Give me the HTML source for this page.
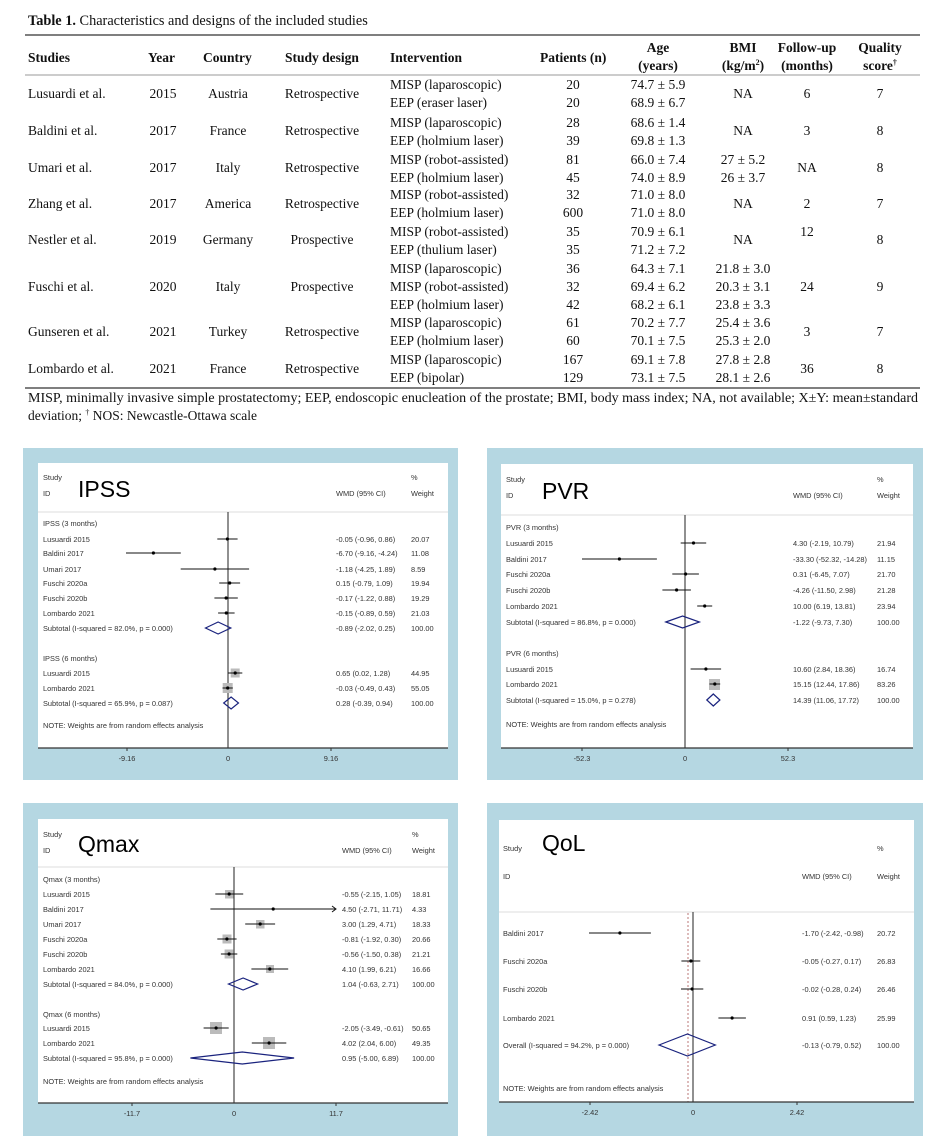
<!DOCTYPE html>
<html><head><meta charset="utf-8"><style>
html,body{margin:0;padding:0;background:#fff}
svg{display:block}
.t{font-family:"Liberation Serif",serif;font-size:13.5px;fill:#111}
.b{font-weight:bold}
.f{font-family:"Liberation Sans",sans-serif;font-size:7.4px;fill:#333}
.big{font-family:"Liberation Sans",sans-serif;font-size:23px;fill:#000}
.m{text-anchor:middle}
</style></head><body>
<svg width="945" height="1146" viewBox="0 0 945 1146" xmlns="http://www.w3.org/2000/svg">
<!-- TABLE -->
<g class="t">
<text x="28" y="25" font-size="14.3"><tspan class="b">Table 1.</tspan> Characteristics and designs of the included studies</text>
<line x1="25" y1="35" x2="920" y2="35" stroke="#555" stroke-width="1.5"/>
<g class="b">
<text x="28" y="62">Studies</text><text x="148" y="62">Year</text><text x="203" y="62">Country</text>
<text x="285" y="62">Study design</text><text x="390" y="62">Intervention</text><text x="540" y="62">Patients (n)</text>
<text x="658" y="52" class="m">Age</text><text x="658" y="70" class="m">(years)</text>
<text x="743" y="52" class="m">BMI</text><text x="743" y="70" class="m">(kg/m<tspan font-size="8" dy="-5">2</tspan><tspan dy="5">)</tspan></text>
<text x="807" y="52" class="m">Follow-up</text><text x="807" y="70" class="m">(months)</text>
<text x="880" y="52" class="m">Quality</text><text x="880" y="70" class="m">score<tspan font-size="8" dy="-5">†</tspan></text>
</g>
<line x1="25" y1="75" x2="920" y2="75" stroke="#999" stroke-width="1"/>

<text x="28" y="98">Lusuardi et al.</text><text x="163" y="98" class="m">2015</text><text x="228" y="98" class="m">Austria</text><text x="322" y="98" class="m">Retrospective</text>
<text x="390" y="89">MISP (laparoscopic)</text><text x="573" y="89" class="m">20</text><text x="658" y="89" class="m">74.7 ± 5.9</text>
<text x="390" y="107">EEP (eraser laser)</text><text x="573" y="107" class="m">20</text><text x="658" y="107" class="m">68.9 ± 6.7</text>
<text x="743" y="98" class="m">NA</text><text x="807" y="98" class="m">6</text><text x="880" y="98" class="m">7</text>

<text x="28" y="135">Baldini et al.</text><text x="163" y="135" class="m">2017</text><text x="228" y="135" class="m">France</text><text x="322" y="135" class="m">Retrospective</text>
<text x="390" y="127">MISP (laparoscopic)</text><text x="573" y="127" class="m">28</text><text x="658" y="127" class="m">68.6 ± 1.4</text>
<text x="390" y="145">EEP (holmium laser)</text><text x="573" y="145" class="m">39</text><text x="658" y="145" class="m">69.8 ± 1.3</text>
<text x="743" y="135" class="m">NA</text><text x="807" y="135" class="m">3</text><text x="880" y="135" class="m">8</text>

<text x="28" y="172">Umari et al.</text><text x="163" y="172" class="m">2017</text><text x="228" y="172" class="m">Italy</text><text x="322" y="172" class="m">Retrospective</text>
<text x="390" y="164">MISP (robot-assisted)</text><text x="573" y="164" class="m">81</text><text x="658" y="164" class="m">66.0 ± 7.4</text><text x="743" y="164" class="m">27 ± 5.2</text>
<text x="390" y="182">EEP (holmium laser)</text><text x="573" y="182" class="m">45</text><text x="658" y="182" class="m">74.0 ± 8.9</text><text x="743" y="182" class="m">26 ± 3.7</text>
<text x="807" y="172" class="m">NA</text><text x="880" y="172" class="m">8</text>

<text x="28" y="208">Zhang et al.</text><text x="163" y="208" class="m">2017</text><text x="228" y="208" class="m">America</text><text x="322" y="208" class="m">Retrospective</text>
<text x="390" y="199">MISP (robot-assisted)</text><text x="573" y="199" class="m">32</text><text x="658" y="199" class="m">71.0 ± 8.0</text>
<text x="390" y="217">EEP (holmium laser)</text><text x="573" y="217" class="m">600</text><text x="658" y="217" class="m">71.0 ± 8.0</text>
<text x="743" y="208" class="m">NA</text><text x="807" y="208" class="m">2</text><text x="880" y="208" class="m">7</text>

<text x="28" y="244">Nestler et al.</text><text x="163" y="244" class="m">2019</text><text x="228" y="244" class="m">Germany</text><text x="322" y="244" class="m">Prospective</text>
<text x="390" y="236">MISP (robot-assisted)</text><text x="573" y="236" class="m">35</text><text x="658" y="236" class="m">70.9 ± 6.1</text>
<text x="390" y="254">EEP (thulium laser)</text><text x="573" y="254" class="m">35</text><text x="658" y="254" class="m">71.2 ± 7.2</text>
<text x="743" y="244" class="m">NA</text><text x="807" y="236" class="m">12</text><text x="880" y="244" class="m">8</text>

<text x="28" y="291">Fuschi et al.</text><text x="163" y="291" class="m">2020</text><text x="228" y="291" class="m">Italy</text><text x="322" y="291" class="m">Prospective</text>
<text x="390" y="273">MISP (laparoscopic)</text><text x="573" y="273" class="m">36</text><text x="658" y="273" class="m">64.3 ± 7.1</text><text x="743" y="273" class="m">21.8 ± 3.0</text>
<text x="390" y="291">MISP (robot-assisted)</text><text x="573" y="291" class="m">32</text><text x="658" y="291" class="m">69.4 ± 6.2</text><text x="743" y="291" class="m">20.3 ± 3.1</text>
<text x="390" y="309">EEP (holmium laser)</text><text x="573" y="309" class="m">42</text><text x="658" y="309" class="m">68.2 ± 6.1</text><text x="743" y="309" class="m">23.8 ± 3.3</text>
<text x="807" y="291" class="m">24</text><text x="880" y="291" class="m">9</text>

<text x="28" y="336">Gunseren et al.</text><text x="163" y="336" class="m">2021</text><text x="228" y="336" class="m">Turkey</text><text x="322" y="336" class="m">Retrospective</text>
<text x="390" y="327">MISP (laparoscopic)</text><text x="573" y="327" class="m">61</text><text x="658" y="327" class="m">70.2 ± 7.7</text><text x="743" y="327" class="m">25.4 ± 3.6</text>
<text x="390" y="345">EEP (holmium laser)</text><text x="573" y="345" class="m">60</text><text x="658" y="345" class="m">70.1 ± 7.5</text><text x="743" y="345" class="m">25.3 ± 2.0</text>
<text x="807" y="336" class="m">3</text><text x="880" y="336" class="m">7</text>

<text x="28" y="373">Lombardo et al.</text><text x="163" y="373" class="m">2021</text><text x="228" y="373" class="m">France</text><text x="322" y="373" class="m">Retrospective</text>
<text x="390" y="364">MISP (laparoscopic)</text><text x="573" y="364" class="m">167</text><text x="658" y="364" class="m">69.1 ± 7.8</text><text x="743" y="364" class="m">27.8 ± 2.8</text>
<text x="390" y="382">EEP (bipolar)</text><text x="573" y="382" class="m">129</text><text x="658" y="382" class="m">73.1 ± 7.5</text><text x="743" y="382" class="m">28.1 ± 2.6</text>
<text x="807" y="373" class="m">36</text><text x="880" y="373" class="m">8</text>

<line x1="25" y1="388" x2="920" y2="388" stroke="#555" stroke-width="1.5"/>
<text x="28" y="402" textLength="890" lengthAdjust="spacingAndGlyphs">MISP,  minimally invasive simple prostatectomy; EEP, endoscopic enucleation of the prostate; BMI, body mass index; NA, not available; X±Y: mean±standard</text>
<text x="28" y="420">deviation; <tspan font-size="8" dy="-5">†</tspan><tspan dy="5"> NOS: Newcastle-Ottawa scale</tspan></text>
</g>

<!-- PANELS backgrounds -->
<rect x="23" y="448" width="435" height="332" fill="#b5d7e2"/>
<rect x="38" y="463" width="410" height="285" fill="#fff"/>
<rect x="487" y="448" width="436" height="332" fill="#b5d7e2"/>
<rect x="501" y="464" width="412" height="284" fill="#fff"/>
<rect x="23" y="803" width="435" height="333" fill="#b5d7e2"/>
<rect x="38" y="819" width="410" height="284" fill="#fff"/>
<rect x="487" y="803" width="436" height="333" fill="#b5d7e2"/>
<rect x="499" y="820" width="415" height="282" fill="#fff"/>

<!-- IPSS -->
<g class="f">
<text x="43" y="480">Study</text><text x="43" y="496">ID</text>
<text x="336" y="496">WMD (95% CI)</text><text x="411" y="480">%</text><text x="411" y="496">Weight</text>
<text x="43" y="526">IPSS (3 months)</text>
<text x="43" y="542">Lusuardi 2015</text><text x="336" y="542">-0.05 (-0.96, 0.86)</text><text x="411" y="542">20.07</text>
<text x="43" y="556">Baldini 2017</text><text x="336" y="556">-6.70 (-9.16, -4.24)</text><text x="411" y="556">11.08</text>
<text x="43" y="572">Umari 2017</text><text x="336" y="572">-1.18 (-4.25, 1.89)</text><text x="411" y="572">8.59</text>
<text x="43" y="586">Fuschi 2020a</text><text x="336" y="586">0.15 (-0.79, 1.09)</text><text x="411" y="586">19.94</text>
<text x="43" y="601">Fuschi 2020b</text><text x="336" y="601">-0.17 (-1.22, 0.88)</text><text x="411" y="601">19.29</text>
<text x="43" y="616">Lombardo 2021</text><text x="336" y="616">-0.15 (-0.89, 0.59)</text><text x="411" y="616">21.03</text>
<text x="43" y="631">Subtotal  (I-squared = 82.0%, p = 0.000)</text><text x="336" y="631">-0.89 (-2.02, 0.25)</text><text x="411" y="631">100.00</text>
<text x="43" y="661">IPSS (6 months)</text>
<text x="43" y="676">Lusuardi 2015</text><text x="336" y="676">0.65 (0.02, 1.28)</text><text x="411" y="676">44.95</text>
<text x="43" y="691">Lombardo 2021</text><text x="336" y="691">-0.03 (-0.49, 0.43)</text><text x="411" y="691">55.05</text>
<text x="43" y="706">Subtotal  (I-squared = 65.9%, p = 0.087)</text><text x="336" y="706">0.28 (-0.39, 0.94)</text><text x="411" y="706">100.00</text>
<text x="43" y="728">NOTE: Weights are from random effects analysis</text>
<text x="127" y="761" class="m">-9.16</text><text x="228" y="761" class="m">0</text><text x="331" y="761" class="m">9.16</text>
</g>
<text x="78" y="497" class="big">IPSS</text>
<line x1="38" y1="512" x2="448" y2="512" stroke="#ddd"/>
<line x1="228" y1="512" x2="228" y2="748" stroke="#222"/>
<line x1="38" y1="748" x2="448" y2="748" stroke="#333" stroke-width="1.2"/>
<path d="M127 748v3M331 748v3" stroke="#333"/>
<g stroke="#111" stroke-width="1">
<line x1="217.3" y1="539" x2="237.6" y2="539"/><line x1="126" y1="553" x2="180.8" y2="553"/>
<line x1="180.7" y1="569" x2="249.1" y2="569"/><line x1="219.2" y1="583" x2="240.1" y2="583"/>
<line x1="214.4" y1="598" x2="237.8" y2="598"/><line x1="218.1" y1="613" x2="234.6" y2="613"/>
</g>
<rect x="230.7" y="668.5" width="9" height="9" fill="#bbb"/><rect x="222.7" y="683" width="10" height="10" fill="#bbb"/>
<g stroke="#111"><line x1="228.2" y1="673" x2="242.3" y2="673"/><line x1="222.5" y1="688" x2="232.8" y2="688"/></g>
<g fill="#000">
<circle cx="227.4" cy="539" r="1.6"/><circle cx="153.4" cy="553" r="1.6"/><circle cx="214.9" cy="569" r="1.6"/>
<circle cx="229.7" cy="583" r="1.6"/><circle cx="226.1" cy="598" r="1.6"/><circle cx="226.3" cy="613" r="1.6"/>
<circle cx="235.2" cy="673" r="1.6"/><circle cx="227.7" cy="688" r="1.6"/>
</g>
<g fill="none" stroke="#1a237e" stroke-width="1.2">
<polygon points="205.5,628 218.1,622 230.8,628 218.1,634"/>
<polygon points="223.7,703 231.1,697 238.5,703 231.1,709"/>
</g>

<!-- PVR -->
<g class="f">
<text x="506" y="482">Study</text><text x="506" y="498">ID</text>
<text x="793" y="498">WMD (95% CI)</text><text x="877" y="482">%</text><text x="877" y="498">Weight</text>
<text x="506" y="530">PVR (3 months)</text>
<text x="506" y="546">Lusuardi 2015</text><text x="793" y="546">4.30 (-2.19, 10.79)</text><text x="877" y="546">21.94</text>
<text x="506" y="562">Baldini 2017</text><text x="793" y="562">-33.30 (-52.32, -14.28)</text><text x="877" y="562">11.15</text>
<text x="506" y="577">Fuschi 2020a</text><text x="793" y="577">0.31 (-6.45, 7.07)</text><text x="877" y="577">21.70</text>
<text x="506" y="593">Fuschi 2020b</text><text x="793" y="593">-4.26 (-11.50, 2.98)</text><text x="877" y="593">21.28</text>
<text x="506" y="609">Lombardo 2021</text><text x="793" y="609">10.00 (6.19, 13.81)</text><text x="877" y="609">23.94</text>
<text x="506" y="625">Subtotal  (I-squared = 86.8%, p = 0.000)</text><text x="793" y="625">-1.22 (-9.73, 7.30)</text><text x="877" y="625">100.00</text>
<text x="506" y="656">PVR (6 months)</text>
<text x="506" y="672">Lusuardi 2015</text><text x="793" y="672">10.60 (2.84, 18.36)</text><text x="877" y="672">16.74</text>
<text x="506" y="687">Lombardo 2021</text><text x="793" y="687">15.15 (12.44, 17.86)</text><text x="877" y="687">83.26</text>
<text x="506" y="703">Subtotal  (I-squared = 15.0%, p = 0.278)</text><text x="793" y="703">14.39 (11.06, 17.72)</text><text x="877" y="703">100.00</text>
<text x="506" y="727">NOTE: Weights are from random effects analysis</text>
<text x="582" y="761" class="m">-52.3</text><text x="685" y="761" class="m">0</text><text x="788" y="761" class="m">52.3</text>
</g>
<text x="542" y="499" class="big">PVR</text>
<line x1="501" y1="515" x2="913" y2="515" stroke="#ddd"/>
<line x1="685" y1="515" x2="685" y2="748" stroke="#222"/>
<line x1="501" y1="748" x2="913" y2="748" stroke="#333" stroke-width="1.2"/>
<path d="M582 748v3M788 748v3" stroke="#333"/>
<rect x="709" y="679" width="11" height="11" fill="#bbb"/>
<g stroke="#111">
<line x1="680.7" y1="543" x2="706.2" y2="543"/><line x1="582" y1="559" x2="656.9" y2="559"/>
<line x1="672.3" y1="574" x2="698.9" y2="574"/><line x1="662.4" y1="590" x2="690.9" y2="590"/>
<line x1="697.2" y1="606" x2="712.2" y2="606"/><line x1="690.6" y1="669" x2="721.1" y2="669"/>
<line x1="709.5" y1="684" x2="720.2" y2="684"/>
</g>
<g fill="#000">
<circle cx="693.5" cy="543" r="1.6"/><circle cx="619.4" cy="559" r="1.6"/><circle cx="685.6" cy="574" r="1.6"/>
<circle cx="676.6" cy="590" r="1.6"/><circle cx="704.7" cy="606" r="1.6"/><circle cx="705.9" cy="669" r="1.6"/>
<circle cx="714.8" cy="684" r="1.6"/>
</g>
<g fill="none" stroke="#1a237e" stroke-width="1.2">
<polygon points="665.8,622 682.6,616 699.4,622 682.6,628"/>
<polygon points="706.8,700 713.3,694 719.9,700 713.3,706"/>
</g>

<!-- Qmax -->
<g class="f">
<text x="43" y="837">Study</text><text x="43" y="853">ID</text>
<text x="342" y="853">WMD (95% CI)</text><text x="412" y="837">%</text><text x="412" y="853">Weight</text>
<text x="43" y="882">Qmax (3 months)</text>
<text x="43" y="897">Lusuardi 2015</text><text x="342" y="897">-0.55 (-2.15, 1.05)</text><text x="412" y="897">18.81</text>
<text x="43" y="912">Baldini 2017</text><text x="342" y="912">4.50 (-2.71, 11.71)</text><text x="412" y="912">4.33</text>
<text x="43" y="927">Umari 2017</text><text x="342" y="927">3.00 (1.29, 4.71)</text><text x="412" y="927">18.33</text>
<text x="43" y="942">Fuschi 2020a</text><text x="342" y="942">-0.81 (-1.92, 0.30)</text><text x="412" y="942">20.66</text>
<text x="43" y="957">Fuschi 2020b</text><text x="342" y="957">-0.56 (-1.50, 0.38)</text><text x="412" y="957">21.21</text>
<text x="43" y="972">Lombardo 2021</text><text x="342" y="972">4.10 (1.99, 6.21)</text><text x="412" y="972">16.66</text>
<text x="43" y="987">Subtotal  (I-squared = 84.0%, p = 0.000)</text><text x="342" y="987">1.04 (-0.63, 2.71)</text><text x="412" y="987">100.00</text>
<text x="43" y="1017">Qmax (6 months)</text>
<text x="43" y="1031">Lusuardi 2015</text><text x="342" y="1031">-2.05 (-3.49, -0.61)</text><text x="412" y="1031">50.65</text>
<text x="43" y="1046">Lombardo 2021</text><text x="342" y="1046">4.02 (2.04, 6.00)</text><text x="412" y="1046">49.35</text>
<text x="43" y="1061">Subtotal  (I-squared = 95.8%, p = 0.000)</text><text x="342" y="1061">0.95 (-5.00, 6.89)</text><text x="412" y="1061">100.00</text>
<text x="43" y="1084">NOTE: Weights are from random effects analysis</text>
<text x="132" y="1116" class="m">-11.7</text><text x="234" y="1116" class="m">0</text><text x="336" y="1116" class="m">11.7</text>
</g>
<text x="78" y="852" class="big">Qmax</text>
<line x1="38" y1="867" x2="448" y2="867" stroke="#ddd"/>
<line x1="234" y1="867" x2="234" y2="1103" stroke="#222"/>
<line x1="38" y1="1103" x2="448" y2="1103" stroke="#333" stroke-width="1.2"/>
<path d="M132 1103v3M336 1103v3" stroke="#333"/>
<g fill="#bbb">
<rect x="225" y="890" width="8.5" height="8.5"/><rect x="256" y="920" width="8.5" height="8.5"/>
<rect x="222.5" y="934.5" width="9" height="9"/><rect x="224.6" y="949.5" width="9" height="9"/>
<rect x="266" y="965" width="8" height="8"/><rect x="210" y="1022" width="12" height="12"/>
<rect x="263" y="1037" width="12" height="12"/>
</g>
<g stroke="#111">
<line x1="215.3" y1="894" x2="243.2" y2="894"/><line x1="210.4" y1="909" x2="336" y2="909"/>
<polyline points="332,906 336,909 332,912" fill="none"/>
<line x1="245.2" y1="924" x2="275.1" y2="924"/><line x1="217.3" y1="939" x2="236.6" y2="939"/>
<line x1="220.9" y1="954" x2="237.3" y2="954"/><line x1="251.4" y1="969" x2="288.2" y2="969"/>
<line x1="203.6" y1="1028" x2="228.7" y2="1028"/><line x1="251.8" y1="1043" x2="286.3" y2="1043"/>
</g>
<g fill="#000">
<circle cx="229.2" cy="894" r="1.6"/><circle cx="273.2" cy="909" r="1.6"/><circle cx="260.2" cy="924" r="1.6"/>
<circle cx="226.9" cy="939" r="1.6"/><circle cx="229.1" cy="954" r="1.6"/><circle cx="269.8" cy="969" r="1.6"/>
<circle cx="216.1" cy="1028" r="1.6"/><circle cx="269.1" cy="1043" r="1.6"/>
</g>
<g fill="none" stroke="#1a237e" stroke-width="1.2">
<polygon points="228.5,984 243.1,978 257.6,984 243.1,990"/>
<polygon points="190.4,1058 242.3,1052 294.1,1058 242.3,1064"/>
</g>

<!-- QoL -->
<g class="f">
<text x="503" y="851">Study</text><text x="503" y="879">ID</text>
<text x="802" y="879">WMD (95% CI)</text><text x="877" y="851">%</text><text x="877" y="879">Weight</text>
<text x="503" y="936">Baldini 2017</text><text x="802" y="936">-1.70 (-2.42, -0.98)</text><text x="877" y="936">20.72</text>
<text x="503" y="964">Fuschi 2020a</text><text x="802" y="964">-0.05 (-0.27, 0.17)</text><text x="877" y="964">26.83</text>
<text x="503" y="992">Fuschi 2020b</text><text x="802" y="992">-0.02 (-0.28, 0.24)</text><text x="877" y="992">26.46</text>
<text x="503" y="1021">Lombardo 2021</text><text x="802" y="1021">0.91 (0.59, 1.23)</text><text x="877" y="1021">25.99</text>
<text x="503" y="1048">Overall  (I-squared = 94.2%, p = 0.000)</text><text x="802" y="1048">-0.13 (-0.79, 0.52)</text><text x="877" y="1048">100.00</text>
<text x="503" y="1091">NOTE: Weights are from random effects analysis</text>
<text x="590" y="1115" class="m">-2.42</text><text x="693" y="1115" class="m">0</text><text x="797" y="1115" class="m">2.42</text>
</g>
<text x="542" y="851" class="big">QoL</text>
<line x1="499" y1="912" x2="914" y2="912" stroke="#ddd"/>
<line x1="688" y1="913" x2="688" y2="1102" stroke="#b77" stroke-dasharray="2,2"/>
<line x1="693" y1="912" x2="693" y2="1102" stroke="#222"/>
<line x1="499" y1="1102" x2="914" y2="1102" stroke="#333" stroke-width="1.2"/>
<path d="M590 1102v3M797 1102v3" stroke="#333"/>
<g stroke="#111">
<line x1="589" y1="933" x2="650.9" y2="933"/><line x1="681.4" y1="961" x2="700.3" y2="961"/>
<line x1="681" y1="989" x2="703.3" y2="989"/><line x1="718.4" y1="1018" x2="745.9" y2="1018"/>
</g>
<g fill="#000">
<circle cx="619.9" cy="933" r="1.6"/><circle cx="690.9" cy="961" r="1.6"/>
<circle cx="692.1" cy="989" r="1.6"/><circle cx="732.1" cy="1018" r="1.6"/>
</g>
<polygon points="659,1045 687.4,1034 715.3,1045 687.4,1056" fill="none" stroke="#1a237e" stroke-width="1.2"/>
</svg>
</body></html>
